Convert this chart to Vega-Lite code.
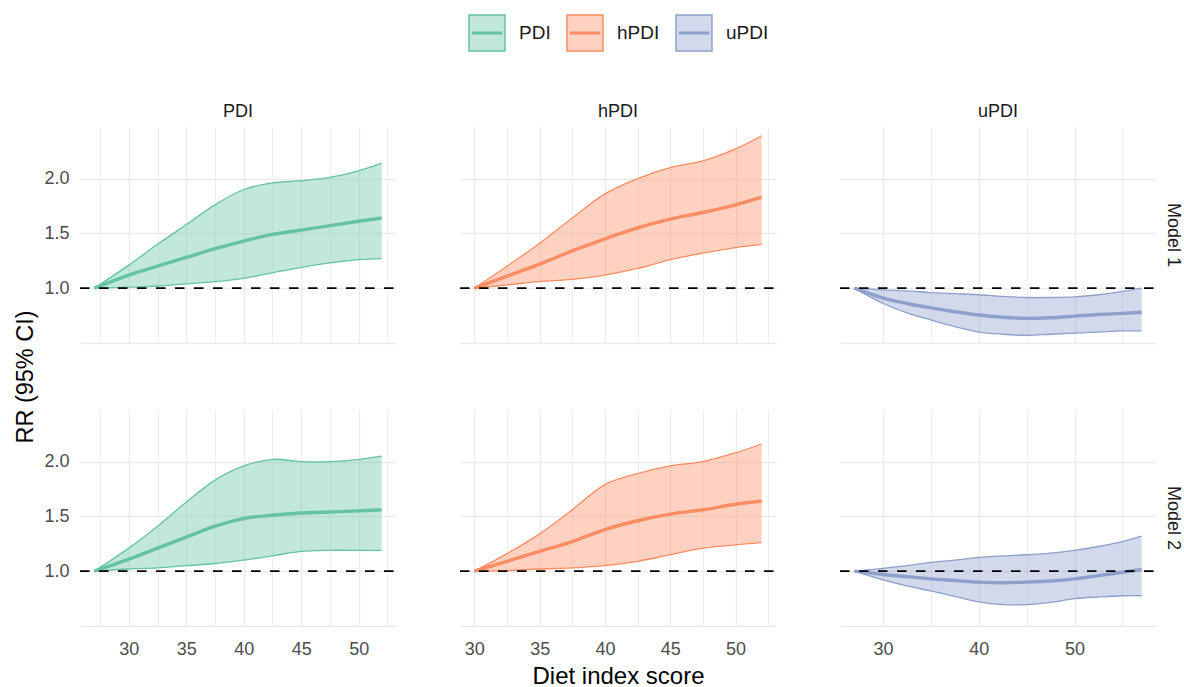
{
  "$schema": "https://vega.github.io/schema/vega-lite/v6.json",
  "background": "white",
  "padding": {"left": 13, "top": 14, "right": 2, "bottom": 0},
  "data": {"values": [
    {"Index":"PDI","Model":"Model 1","x":27,"lower":1.0,"mid":1.0,"upper":1.0},
    {"Index":"PDI","Model":"Model 1","x":30,"lower":1.01,"mid":1.12,"upper":1.21},
    {"Index":"PDI","Model":"Model 1","x":32.5,"lower":1.02,"mid":1.2,"upper":1.4},
    {"Index":"PDI","Model":"Model 1","x":35,"lower":1.04,"mid":1.28,"upper":1.58},
    {"Index":"PDI","Model":"Model 1","x":37.5,"lower":1.06,"mid":1.36,"upper":1.76},
    {"Index":"PDI","Model":"Model 1","x":40,"lower":1.09,"mid":1.43,"upper":1.9},
    {"Index":"PDI","Model":"Model 1","x":42.5,"lower":1.14,"mid":1.49,"upper":1.96},
    {"Index":"PDI","Model":"Model 1","x":45,"lower":1.19,"mid":1.53,"upper":1.98},
    {"Index":"PDI","Model":"Model 1","x":47.5,"lower":1.23,"mid":1.57,"upper":2.01},
    {"Index":"PDI","Model":"Model 1","x":50,"lower":1.26,"mid":1.61,"upper":2.07},
    {"Index":"PDI","Model":"Model 1","x":52,"lower":1.27,"mid":1.64,"upper":2.14},
    {"Index":"hPDI","Model":"Model 1","x":30,"lower":1.0,"mid":1.0,"upper":1.0},
    {"Index":"hPDI","Model":"Model 1","x":32.5,"lower":1.03,"mid":1.11,"upper":1.2},
    {"Index":"hPDI","Model":"Model 1","x":35,"lower":1.06,"mid":1.22,"upper":1.41},
    {"Index":"hPDI","Model":"Model 1","x":37.5,"lower":1.08,"mid":1.34,"upper":1.64},
    {"Index":"hPDI","Model":"Model 1","x":40,"lower":1.12,"mid":1.45,"upper":1.86},
    {"Index":"hPDI","Model":"Model 1","x":42.5,"lower":1.18,"mid":1.55,"upper":2.0},
    {"Index":"hPDI","Model":"Model 1","x":45,"lower":1.26,"mid":1.63,"upper":2.1},
    {"Index":"hPDI","Model":"Model 1","x":47.5,"lower":1.32,"mid":1.69,"upper":2.16},
    {"Index":"hPDI","Model":"Model 1","x":50,"lower":1.37,"mid":1.76,"upper":2.27},
    {"Index":"hPDI","Model":"Model 1","x":52,"lower":1.4,"mid":1.83,"upper":2.39},
    {"Index":"uPDI","Model":"Model 1","x":27,"lower":1.0,"mid":1.0,"upper":1.0},
    {"Index":"uPDI","Model":"Model 1","x":30,"lower":0.86,"mid":0.91,"upper":0.985},
    {"Index":"uPDI","Model":"Model 1","x":32.5,"lower":0.775,"mid":0.86,"upper":0.975},
    {"Index":"uPDI","Model":"Model 1","x":35,"lower":0.71,"mid":0.82,"upper":0.96},
    {"Index":"uPDI","Model":"Model 1","x":37.5,"lower":0.65,"mid":0.785,"upper":0.95},
    {"Index":"uPDI","Model":"Model 1","x":40,"lower":0.6,"mid":0.755,"upper":0.94},
    {"Index":"uPDI","Model":"Model 1","x":42.5,"lower":0.58,"mid":0.735,"upper":0.925},
    {"Index":"uPDI","Model":"Model 1","x":45,"lower":0.57,"mid":0.725,"upper":0.915},
    {"Index":"uPDI","Model":"Model 1","x":47.5,"lower":0.58,"mid":0.73,"upper":0.915},
    {"Index":"uPDI","Model":"Model 1","x":50,"lower":0.59,"mid":0.745,"upper":0.92},
    {"Index":"uPDI","Model":"Model 1","x":52.5,"lower":0.6,"mid":0.76,"upper":0.94},
    {"Index":"uPDI","Model":"Model 1","x":55,"lower":0.61,"mid":0.77,"upper":0.97},
    {"Index":"uPDI","Model":"Model 1","x":57,"lower":0.61,"mid":0.78,"upper":1.0},
    {"Index":"PDI","Model":"Model 2","x":27,"lower":1.0,"mid":1.0,"upper":1.0},
    {"Index":"PDI","Model":"Model 2","x":30,"lower":1.02,"mid":1.11,"upper":1.21},
    {"Index":"PDI","Model":"Model 2","x":32.5,"lower":1.03,"mid":1.21,"upper":1.41},
    {"Index":"PDI","Model":"Model 2","x":35,"lower":1.05,"mid":1.31,"upper":1.63},
    {"Index":"PDI","Model":"Model 2","x":37.5,"lower":1.07,"mid":1.41,"upper":1.83},
    {"Index":"PDI","Model":"Model 2","x":40,"lower":1.1,"mid":1.48,"upper":1.96},
    {"Index":"PDI","Model":"Model 2","x":42.5,"lower":1.14,"mid":1.51,"upper":2.02},
    {"Index":"PDI","Model":"Model 2","x":45,"lower":1.18,"mid":1.53,"upper":2.0},
    {"Index":"PDI","Model":"Model 2","x":47.5,"lower":1.19,"mid":1.54,"upper":2.0},
    {"Index":"PDI","Model":"Model 2","x":50,"lower":1.19,"mid":1.55,"upper":2.02},
    {"Index":"PDI","Model":"Model 2","x":52,"lower":1.19,"mid":1.56,"upper":2.05},
    {"Index":"hPDI","Model":"Model 2","x":30,"lower":1.0,"mid":1.0,"upper":1.0},
    {"Index":"hPDI","Model":"Model 2","x":32.5,"lower":1.005,"mid":1.09,"upper":1.16},
    {"Index":"hPDI","Model":"Model 2","x":35,"lower":1.02,"mid":1.18,"upper":1.34},
    {"Index":"hPDI","Model":"Model 2","x":37.5,"lower":1.03,"mid":1.27,"upper":1.56},
    {"Index":"hPDI","Model":"Model 2","x":40,"lower":1.05,"mid":1.38,"upper":1.79},
    {"Index":"hPDI","Model":"Model 2","x":42.5,"lower":1.09,"mid":1.46,"upper":1.89},
    {"Index":"hPDI","Model":"Model 2","x":45,"lower":1.15,"mid":1.52,"upper":1.96},
    {"Index":"hPDI","Model":"Model 2","x":47.5,"lower":1.21,"mid":1.56,"upper":2.0},
    {"Index":"hPDI","Model":"Model 2","x":50,"lower":1.24,"mid":1.61,"upper":2.08},
    {"Index":"hPDI","Model":"Model 2","x":52,"lower":1.26,"mid":1.64,"upper":2.16},
    {"Index":"uPDI","Model":"Model 2","x":27,"lower":1.0,"mid":1.0,"upper":1.0},
    {"Index":"uPDI","Model":"Model 2","x":30,"lower":0.92,"mid":0.97,"upper":1.025},
    {"Index":"uPDI","Model":"Model 2","x":32.5,"lower":0.865,"mid":0.95,"upper":1.05},
    {"Index":"uPDI","Model":"Model 2","x":35,"lower":0.82,"mid":0.93,"upper":1.08},
    {"Index":"uPDI","Model":"Model 2","x":37.5,"lower":0.77,"mid":0.915,"upper":1.1},
    {"Index":"uPDI","Model":"Model 2","x":40,"lower":0.72,"mid":0.9,"upper":1.125},
    {"Index":"uPDI","Model":"Model 2","x":42.5,"lower":0.695,"mid":0.895,"upper":1.14},
    {"Index":"uPDI","Model":"Model 2","x":45,"lower":0.695,"mid":0.9,"upper":1.15},
    {"Index":"uPDI","Model":"Model 2","x":47.5,"lower":0.715,"mid":0.91,"upper":1.165},
    {"Index":"uPDI","Model":"Model 2","x":50,"lower":0.75,"mid":0.93,"upper":1.19},
    {"Index":"uPDI","Model":"Model 2","x":52.5,"lower":0.765,"mid":0.96,"upper":1.225},
    {"Index":"uPDI","Model":"Model 2","x":55,"lower":0.776,"mid":0.99,"upper":1.27},
    {"Index":"uPDI","Model":"Model 2","x":57,"lower":0.776,"mid":1.015,"upper":1.32}
  ]},
  "config": {
    "font": "Liberation Sans",
    "view": {"stroke": null},
    "axis": {"gridColor": "#EBEBEB", "domain": false, "ticks": false, "labelFontSize": 18, "labelColor": "#4D4D4D", "titleFontSize": 24, "titleFontWeight": "normal", "titleColor": "#000000", "labelOverlap": false},
    "header": {"labelFontSize": 18, "labelColor": "#1A1A1A", "titleFontSize": 23.5, "titleFontWeight": "normal", "titleColor": "#000000"},
    "legend": {"labelFontSize": 19, "labelColor": "#1A1A1A"}
  },
  "resolve": {"scale": {"color": "shared"}},
  "spacing": 62,
  "hconcat": [
    {
      "transform": [{"filter": "datum.Index === 'PDI'"}],
      "facet": {
        "row": {"field": "Model", "type": "nominal", "header": {"title": "RR (95% CI)", "labels": false, "titlePadding": -4}},
        "column": {"field": "Index", "type": "nominal", "header": {"title": null, "labelPadding": 6}}
      },
      "spacing": {"row": 67},
      "spec": {
        "width": 316, "height": 216,
        "encoding": {"x": {"field": "x", "type": "quantitative", "scale": {"domain": [25.75, 53.25], "nice": false, "zero": false},
          "axis": {"title": null, "values": [27.5,30,32.5,35,37.5,40,42.5,45,47.5,50,52.5], "labelExpr": "datum.value % 5 == 0 ? datum.label : ''", "labelPadding": 14, "gridWidth": {"condition": {"test": "datum.value % 5 == 0", "value": 1.3}, "value": 0.8}}}},
        "layer": [
          {"mark": {"type": "area", "fillOpacity": 0.4, "interpolate": "catmull-rom"},
           "encoding": {
             "y": {"field": "lower", "type": "quantitative", "scale": {"domain": [0.5, 2.47], "nice": false, "zero": false},
               "axis": {"title": null, "values": [0.5,0.75,1,1.25,1.5,1.75,2,2.25], "labelExpr": "datum.value == 1 || datum.value == 1.5 || datum.value == 2 ? format(datum.value, '.1f') : ''", "labelPadding": 10, "gridWidth": {"condition": {"test": "datum.value * 2 == round(datum.value * 2)", "value": 1.3}, "value": 0.8}}},
             "y2": {"field": "upper"},
             "color": {"field": "Index", "type": "nominal", "scale": {"domain": ["PDI","hPDI","uPDI"], "range": ["#66C2A5","#FC8D62","#8DA0CB"]},
               "legend": {"title": null, "orient": "none", "direction": "horizontal", "legendX": 388, "legendY": -113, "symbolType": "M-1,-1H1V1H-1Z M-0.8,-0.035H0.8V0.035H-0.8Z", "symbolSize": 1296, "labelOffset": 13, "columnPadding": 13, "encode": {"symbols": {"update": {"fill": {"scale": "color", "field": "value"}, "fillOpacity": {"value": 0.4}, "stroke": {"scale": "color", "field": "value"}, "strokeWidth": {"value": 1.5}, "opacity": {"value": 1}}}}}}
           }},
          {"mark": {"type": "line", "strokeWidth": 1.3, "interpolate": "catmull-rom"},
           "encoding": {"y": {"field": "lower", "type": "quantitative"}, "color": {"field": "Index", "type": "nominal"}}},
          {"mark": {"type": "line", "strokeWidth": 1.3, "interpolate": "catmull-rom"},
           "encoding": {"y": {"field": "upper", "type": "quantitative"}, "color": {"field": "Index", "type": "nominal"}}},
          {"mark": {"type": "line", "strokeWidth": 3.4, "interpolate": "catmull-rom"},
           "encoding": {"y": {"field": "mid", "type": "quantitative"}, "color": {"field": "Index", "type": "nominal"}}},
          {"transform": [{"filter": "datum.lower == 1 && datum.upper == 1"}],
           "mark": {"type": "rule", "color": "#000000", "strokeWidth": 1.8, "strokeDash": [9.5, 9.5]},
           "encoding": {"x": {"datum": 25.75, "type": "quantitative"}, "x2": {"datum": 53.25}, "y": {"datum": 1, "type": "quantitative"}}}
        ]
      }
    },
    {
      "transform": [{"filter": "datum.Index === 'hPDI'"}],
      "facet": {
        "row": {"field": "Model", "type": "nominal", "header": {"title": null, "labels": false}},
        "column": {"field": "Index", "type": "nominal", "header": {"title": null, "labelPadding": 6}}
      },
      "spacing": {"row": 67},
      "spec": {
        "width": 316, "height": 216,
        "encoding": {"x": {"field": "x", "type": "quantitative", "scale": {"domain": [28.9, 53.1], "nice": false, "zero": false},
          "axis": {"title": "Diet index score", "titlePadding": 6, "values": [30,32.5,35,37.5,40,42.5,45,47.5,50,52.5], "labelExpr": "datum.value % 5 == 0 ? datum.label : ''", "labelPadding": 14, "gridWidth": {"condition": {"test": "datum.value % 5 == 0", "value": 1.3}, "value": 0.8}}}},
        "layer": [
          {"mark": {"type": "area", "fillOpacity": 0.4, "interpolate": "catmull-rom"},
           "encoding": {
             "y": {"field": "lower", "type": "quantitative", "scale": {"domain": [0.5, 2.47], "nice": false, "zero": false},
               "axis": {"title": null, "labels": false, "values": [0.5,0.75,1,1.25,1.5,1.75,2,2.25], "gridWidth": {"condition": {"test": "datum.value * 2 == round(datum.value * 2)", "value": 1.3}, "value": 0.8}}},
             "y2": {"field": "upper"},
             "color": {"field": "Index", "type": "nominal"}
           }},
          {"mark": {"type": "line", "strokeWidth": 1.3, "interpolate": "catmull-rom"},
           "encoding": {"y": {"field": "lower", "type": "quantitative"}, "color": {"field": "Index", "type": "nominal"}}},
          {"mark": {"type": "line", "strokeWidth": 1.3, "interpolate": "catmull-rom"},
           "encoding": {"y": {"field": "upper", "type": "quantitative"}, "color": {"field": "Index", "type": "nominal"}}},
          {"mark": {"type": "line", "strokeWidth": 3.4, "interpolate": "catmull-rom"},
           "encoding": {"y": {"field": "mid", "type": "quantitative"}, "color": {"field": "Index", "type": "nominal"}}},
          {"transform": [{"filter": "datum.lower == 1 && datum.upper == 1"}],
           "mark": {"type": "rule", "color": "#000000", "strokeWidth": 1.8, "strokeDash": [9.5, 9.5]},
           "encoding": {"x": {"datum": 28.9, "type": "quantitative"}, "x2": {"datum": 53.1}, "y": {"datum": 1, "type": "quantitative"}}}
        ]
      }
    },
    {
      "transform": [{"filter": "datum.Index === 'uPDI'"}],
      "facet": {
        "row": {"field": "Model", "type": "nominal", "header": {"title": null, "labelOrient": "right", "labelAngle": 90, "labelPadding": 7}},
        "column": {"field": "Index", "type": "nominal", "header": {"title": null, "labelPadding": 6}}
      },
      "spacing": {"row": 67},
      "spec": {
        "width": 316, "height": 216,
        "encoding": {"x": {"field": "x", "type": "quantitative", "scale": {"domain": [25.5, 58.5], "nice": false, "zero": false},
          "axis": {"title": null, "values": [30,35,40,45,50,55], "labelExpr": "datum.value % 10 == 0 ? datum.label : ''", "labelPadding": 14, "gridWidth": {"condition": {"test": "datum.value % 10 == 0", "value": 1.3}, "value": 0.8}}}},
        "layer": [
          {"mark": {"type": "area", "fillOpacity": 0.4, "interpolate": "catmull-rom"},
           "encoding": {
             "y": {"field": "lower", "type": "quantitative", "scale": {"domain": [0.5, 2.47], "nice": false, "zero": false},
               "axis": {"title": null, "labels": false, "values": [0.5,0.75,1,1.25,1.5,1.75,2,2.25], "gridWidth": {"condition": {"test": "datum.value * 2 == round(datum.value * 2)", "value": 1.3}, "value": 0.8}}},
             "y2": {"field": "upper"},
             "color": {"field": "Index", "type": "nominal"}
           }},
          {"mark": {"type": "line", "strokeWidth": 1.3, "interpolate": "catmull-rom"},
           "encoding": {"y": {"field": "lower", "type": "quantitative"}, "color": {"field": "Index", "type": "nominal"}}},
          {"mark": {"type": "line", "strokeWidth": 1.3, "interpolate": "catmull-rom"},
           "encoding": {"y": {"field": "upper", "type": "quantitative"}, "color": {"field": "Index", "type": "nominal"}}},
          {"mark": {"type": "line", "strokeWidth": 3.4, "interpolate": "catmull-rom"},
           "encoding": {"y": {"field": "mid", "type": "quantitative"}, "color": {"field": "Index", "type": "nominal"}}},
          {"transform": [{"filter": "datum.lower == 1 && datum.upper == 1"}],
           "mark": {"type": "rule", "color": "#000000", "strokeWidth": 1.8, "strokeDash": [9.5, 9.5]},
           "encoding": {"x": {"datum": 25.5, "type": "quantitative"}, "x2": {"datum": 58.5}, "y": {"datum": 1, "type": "quantitative"}}}
        ]
      }
    }
  ]
}
